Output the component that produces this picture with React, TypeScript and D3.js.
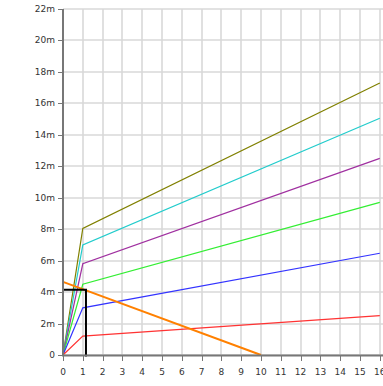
import React from "react";
import * as d3 from "d3";

const xValues = [0, 1, 16];
const oliveSeries = [0, 8.05, 17.3];
const cyanSeries = [0, 7.0, 15.05];
const purpleSeries = [0, 5.8, 12.5];
const greenSeries = [0, 4.5, 9.7];
const blueSeries = [0, 3.0, 6.47];
const redSeries = [0, 1.2, 2.5];
const seriesColors = ["#808000", "#22cccc", "#a030a0", "#33ee33", "#3333ff", "#ff3333"];
const allSeries = [oliveSeries, cyanSeries, purpleSeries, greenSeries, blueSeries, redSeries];

const orangeX = [0, 10];
const orangeY = [4.65, 0];
const markerX = [0, 1.16, 1.16];
const markerY = [4.15, 4.15, -0.1];

const xTicks = d3.range(0, 17);
const yTicks = d3.range(0, 23, 2);
const yTickLabel = (v: number) => (v === 0 ? "0" : `${v}m`);

export default function App() {
  const W = 383, H = 386;
  const x = d3.scaleLinear().domain([0, 16]).range([63, 379.8]);
  const y = d3.scaleLinear().domain([0, 22]).range([355, 9]);
  const line = d3.line<[number, number]>().x(d => x(d[0])).y(d => y(d[1]));
  const font = "DejaVu Sans, sans-serif";
  return (
    <svg width={W} height={H} style={{ position: "absolute", left: 0, top: 0, background: "#fff" }}>
      <rect x={0} y={0} width={W} height={H} fill="#fff" />
      {xTicks.map(t => (
        <line key={"gx" + t} x1={Math.round(x(t))} x2={Math.round(x(t))} y1={y(22)} y2={y(0)} stroke="#d9d9d9" strokeWidth={1.6} />
      ))}
      {yTicks.map(t => (
        <line key={"gy" + t} x1={x(0)} x2={W} y1={Math.round(y(t))} y2={Math.round(y(t))} stroke="#d9d9d9" strokeWidth={1.6} />
      ))}
      {allSeries.map((s, i) => (
        <path key={"s" + i} d={line(xValues.map((xv, j) => [xv, s[j]]) as [number, number][]) || ""} fill="none" stroke={seriesColors[i]} strokeWidth={1.2} />
      ))}
      <path d={line(orangeX.map((xv, j) => [xv, orangeY[j]]) as [number, number][]) || ""} fill="none" stroke="#ff8000" strokeWidth={2} />
      <path d={line(markerX.map((xv, j) => [xv, markerY[j]]) as [number, number][]) || ""} fill="none" stroke="#000" strokeWidth={2} />
      <line x1={63} x2={63} y1={y(22)} y2={y(0) + 1} stroke="#777" strokeWidth={2} />
      <line x1={62} x2={W} y1={y(0) + 0.5} y2={y(0) + 0.5} stroke="#777" strokeWidth={2} />
      {yTicks.map(t => (
        <g key={"yt" + t}>
          <line x1={58} x2={63} y1={Math.round(y(t)) + 0.5} y2={Math.round(y(t)) + 0.5} stroke="#777" strokeWidth={1} />
          <text x={55} y={y(t) + 3} textAnchor="end" fontFamily={font} fontSize={9} fill="#333">{yTickLabel(t)}</text>
        </g>
      ))}
      {xTicks.map(t => (
        <g key={"xt" + t}>
          <line x1={Math.round(x(t)) + 0.5} x2={Math.round(x(t)) + 0.5} y1={356} y2={361} stroke="#777" strokeWidth={1} />
          <text x={x(t)} y={375} textAnchor="middle" fontFamily={font} fontSize={9} fill="#333">{t}</text>
        </g>
      ))}
    </svg>
  );
}
